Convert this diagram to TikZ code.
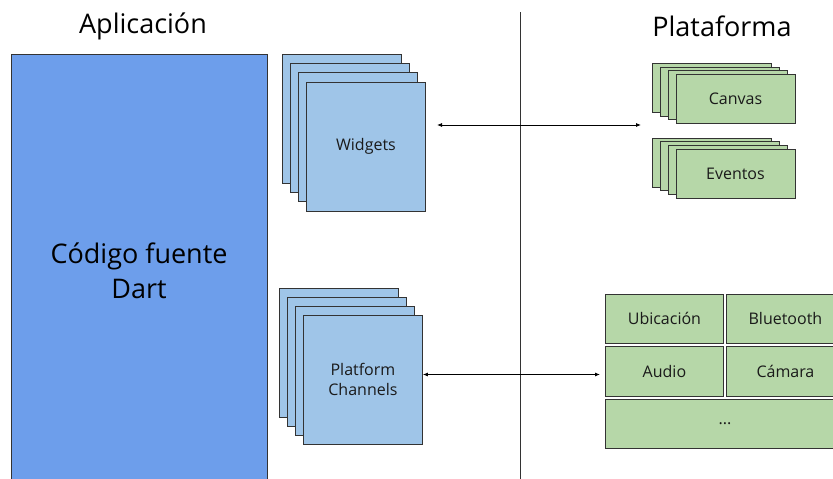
\documentclass[tikz,border=0pt]{standalone}
\usepackage{fontspec}
\setmainfont{Open Sans}
\usetikzlibrary{arrows.meta}
\definecolor{bigblue}{HTML}{6D9EEB}
\definecolor{lightblue}{HTML}{9FC5E8}
\definecolor{lightgreen}{HTML}{B6D7A8}
\definecolor{txt}{HTML}{1A1A1A}
\definecolor{edge}{HTML}{333333}
\tikzset{
  bluecard/.style={draw=edge, line width=0.9pt, fill=lightblue, minimum width=119pt, minimum height=129pt, anchor=north west, inner sep=0pt, text=txt, font=\fontsize{16}{20}\selectfont, align=center},
  greencard/.style={draw=edge, line width=0.9pt, fill=lightgreen, minimum width=119pt, minimum height=49pt, anchor=north west, inner sep=0pt, text=txt, font=\fontsize{16}{20}\selectfont},
  cell/.style={draw=edge, line width=0.9pt, fill=lightgreen, minimum width=118pt, minimum height=49.5pt, anchor=north west, inner sep=0pt, text=txt, font=\fontsize{16}{20}\selectfont},
  header/.style={text=black, font=\fontsize{27}{32}\selectfont},
  link/.style={draw=black, line width=0.8pt, {Latex[length=5pt,width=4pt]}-{Latex[length=5pt,width=4pt]}},
}
\begin{document}
\begin{tikzpicture}[x=1pt,y=-1pt]
\useasboundingbox (0,0) rectangle (833,479);
\fill[white] (0,0) rectangle (833,479);
% divider
\draw[edge, line width=0.9pt] (520,12) -- (520,481);
% headers
\node[header] (happ) at (143,26) {Aplicación};
\node[header] (hplat) at (722,26) {Plataforma};
% big block
\node[draw=edge, line width=0.9pt, fill=bigblue, minimum width=256pt, minimum height=430pt, anchor=north west, inner sep=0pt] (code) at (11,54) {};
\node[text=black, font=\fontsize{27}{35}\selectfont, align=center] (codetxt) at (139,271) {Código fuente\\Dart};
% widgets stack
\node[bluecard] (w1) at (282,54) {};
\node[bluecard] (w2) at (290,63) {};
\node[bluecard] (w3) at (298,72) {};
\node[bluecard] (wid) at (306,81.5) {Widgets};
% platform channels stack
\node[bluecard] (p1) at (278.5,287.5) {};
\node[bluecard] (p2) at (286.5,297) {};
\node[bluecard] (p3) at (294.5,306) {};
\node[bluecard] (pch) at (303,315) {Platform\\Channels};
% canvas stack
\node[greencard] (c1) at (652,63) {};
\node[greencard] (c2) at (660,66.5) {};
\node[greencard] (c3) at (667.5,70) {};
\node[greencard] (canvas) at (675.5,73.5) {Canvas};
% eventos stack
\node[greencard] (e1) at (652,137.5) {};
\node[greencard] (e2) at (660,141) {};
\node[greencard] (e3) at (667.5,144.5) {};
\node[greencard] (eventos) at (675.5,148.5) {Eventos};
% grid
\node[cell] (ubic) at (605,293.5) {Ubicación};
\node[cell] (blue) at (726,293.5) {Bluetooth};
\node[cell] (audio) at (605,346) {Audio};
\node[cell] (cam) at (726,346) {Cámara};
\node[cell, minimum width=239pt] (more) at (605,398.5) {...};
% arrows
\coordinate (ta) at (437,125);
\coordinate (tb) at (641,125);
\draw[link] (ta) -- (tb);
\coordinate (ba) at (pch.east |- 0,374.5);
\coordinate (bb) at (600,374.5);
\draw[link] (ba) -- (bb);
\end{tikzpicture}
\end{document}
